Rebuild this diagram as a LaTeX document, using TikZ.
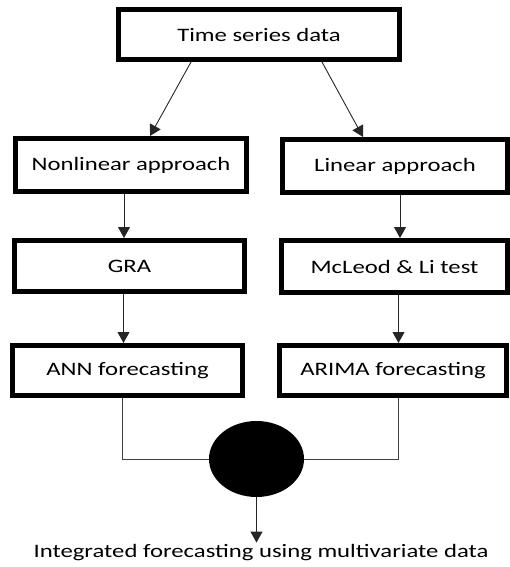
\documentclass[tikz,border=0pt]{standalone}
\usepackage{fontspec}
\setmainfont{Carlito}[FakeStretch=1.3]
\usetikzlibrary{shapes.geometric,arrows.meta}

\begin{document}
\begin{tikzpicture}[x=1pt, y=-1pt, line cap=rect,
		% Styles
		stage/.style={draw, line width=5pt, minimum width=228pt, minimum height=51pt, inner sep=0pt, font=\fontsize{19}{22}\selectfont},
		merge/.style={ellipse, fill=black, minimum width=95pt, minimum height=76pt, inner sep=0pt},
		flow/.style={-{Triangle[width=12pt, length=11pt]}, line width=0.9pt, black!85},
		joinline/.style={line width=0.9pt, black!75},
		result text/.style={font=\fontsize{19}{22}\selectfont, inner sep=2pt}
		]
		
		\useasboundingbox (0, 0) rectangle (510, 567);
		
		% The boxes
		\node[stage, minimum width=281pt, minimum height=50pt] (data) at (259, 34.5) {Time series data};
		
		\node[stage, minimum width=231pt, minimum height=53pt] (nonlin) at (131, 165) {Nonlinear approach};
		\node[stage, minimum width=225pt, minimum height=53pt] (lin) at (395, 166) {Linear approach};
		
		\node[stage, minimum width=230pt] (gra) at (129.5, 266) {GRA};
		\node[stage, minimum width=226pt, minimum height=52pt] (mcleod) at (394.5, 266.5) {McLeod \& Li test};
		
		\node[stage, minimum width=230pt, minimum height=50pt] (ann) at (127.5, 370.5) {ANN forecasting};
		\node[stage, minimum width=227pt, minimum height=50pt] (arima) at (393, 370.5) {ARIMA forecasting};
		
		% Combination and result
		\node[merge] (comb) at (256.5, 459) {};
		\node[result text] (result) at (261, 553) {Integrated forecasting using multivariate data};
		
		% Arrows from the data
		\draw[flow] ([xshift=-68pt]data.south) -- ([xshift=19pt]nonlin.north);
		\draw[flow] ([xshift=63pt]data.south) -- ([xshift=-32pt]lin.north);
		
		% Nonlinear side
		\draw[flow] ([xshift=-7pt]nonlin.south) -- ([xshift=-7pt]nonlin.south |- gra.north);
		\draw[flow] ([xshift=-6pt]gra.south) -- ([xshift=-6pt]gra.south |- ann.north);
		
		% Linear side
		\draw[flow] ([xshift=5pt]lin.south) -- ([xshift=5pt]lin.south |- mcleod.north);
		\draw[flow] ([xshift=4pt]mcleod.south) -- ([xshift=4pt]mcleod.south |- arima.north);
		
		% Both forecasts into the combination
		\draw[joinline] ([xshift=-5pt]ann.south) |- (comb.west);
		\draw[joinline] ([xshift=5pt]arima.south) |- (comb.east);
		\draw[flow] (comb.south) -- (comb.south |- result.north);
		
	\end{tikzpicture}
\end{document}
